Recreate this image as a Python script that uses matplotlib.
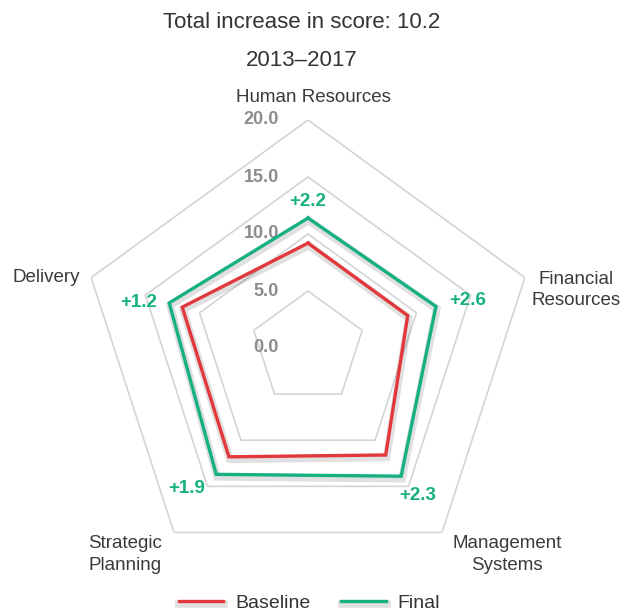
import numpy as np
import matplotlib.pyplot as plt
import matplotlib.patheffects as pe

plt.rcParams['font.family'] = ['Liberation Sans', 'DejaVu Sans']

# data
categories = ['Human Resources', 'Financial\nResources', 'Management\nSystems',
              'Strategic\nPlanning', 'Delivery']
baseline = [9.2, 9.2, 11.6, 11.8, 11.6]
final = [11.4, 11.8, 13.9, 13.7, 12.8]
ring_levels = [5, 10, 15, 20]
tick_labels = ['0.0', '5.0', '10.0', '15.0', '20.0']
period = '2013\u20132017'

red = '#e2373b'
green = '#16b083'
grid_col = '#d4d4d4'

n = len(categories)
theta = np.arange(n) * 2 * np.pi / n
theta_c = np.append(theta, theta[0])

fig = plt.figure(figsize=(6.38, 6.12), dpi=100)
ax = fig.add_axes([80 / 638, 36 / 612, 456 / 638, 456 / 612], projection='polar')
ax.set_theta_offset(np.pi / 2)
ax.set_theta_direction(-1)
ax.set_ylim(0, 20)
ax.set_xticks([])
ax.set_yticks([])
ax.grid(False)
ax.spines['polar'].set_visible(False)
ax.patch.set_visible(False)

# pentagon rings
for lv in ring_levels:
    ax.plot(theta_c, [lv] * (n + 1), color=grid_col, lw=1.2, zorder=1)

# radial tick labels, left of the top axis
for i, t in enumerate(tick_labels):
    ax.annotate(t, xy=(0, i * 5), xytext=(-21, 0), textcoords='offset points',
                ha='right', va='center', fontsize=13, color='#8c8c8c',
                fontweight='bold', zorder=2)

shadow = [pe.SimpleLineShadow(offset=(0.6, -1.8), shadow_color='k', alpha=0.12,
                              linewidth=5.5), pe.Normal()]
ax.plot(theta_c, baseline + baseline[:1], color=red, lw=2.4, zorder=4,
        label='Baseline', path_effects=shadow, solid_joinstyle='miter')
ax.plot(theta_c, final + final[:1], color=green, lw=2.4, zorder=5,
        label='Final', path_effects=shadow, solid_joinstyle='miter')

# category labels (offsets in points from outer vertex)
cat_offsets = [(4, 16), (37, -9), (47, -16), (-35, -16), (-32, 0)]
for th, lab, off in zip(theta, categories, cat_offsets):
    ax.annotate(lab, xy=(th, 20), xytext=off, textcoords='offset points',
                ha='center', va='center', fontsize=13.5, color='#3a3a3a',
                linespacing=1.35)

# increase labels
deltas = [round(f - b, 1) for f, b in zip(final, baseline)]
delta_offsets = [(0, 12), (23, 4), (12, -14), (-21, -10), (-22, 0)]
for th, v, d, off in zip(theta, final, deltas, delta_offsets):
    ax.annotate(f'+{d:.1f}', xy=(th, v), xytext=off, textcoords='offset points',
                ha='center', va='center', fontsize=13.5, color=green,
                fontweight='bold', zorder=6)

fig.text(0.473, 1 - 22 / 612, f'Total increase in score: {sum(deltas):.1f}',
         ha='center', va='center', fontsize=16, color='#333333')
fig.text(0.473, 1 - 60 / 612, period, ha='center', va='center',
         fontsize=16, color='#333333')

fig.legend(loc='center', bbox_to_anchor=(0.485, 1 - 603 / 612), ncol=2,
           frameon=False, fontsize=14, handlelength=2.3, columnspacing=1.6,
           handletextpad=0.6, labelcolor='#333333')

fig.savefig('out.png', dpi=100)
